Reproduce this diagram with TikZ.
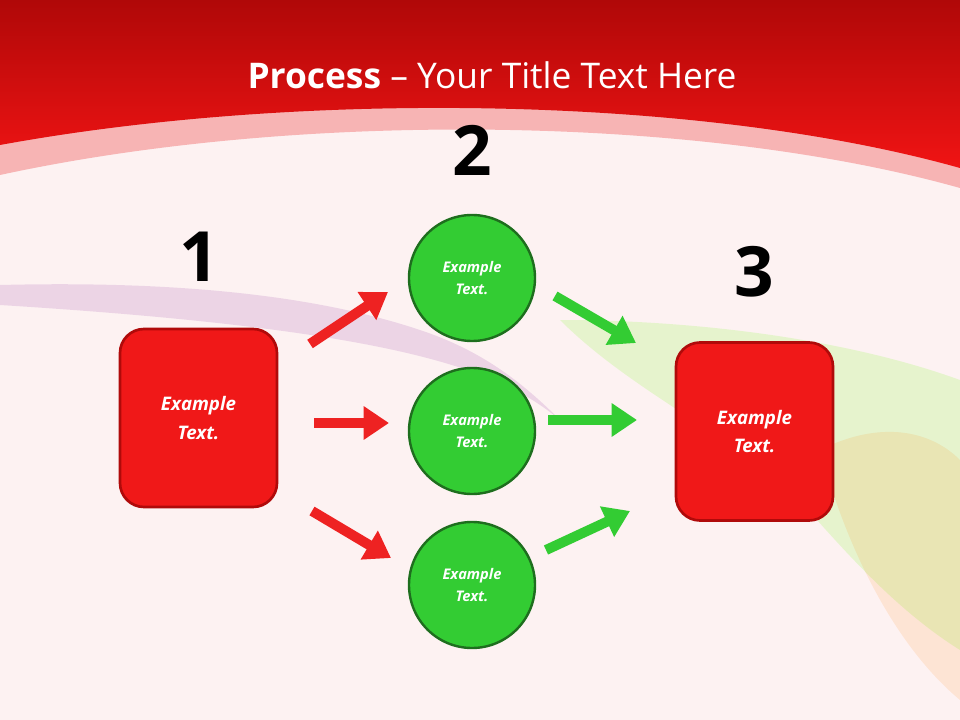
\documentclass[tikz,border=0pt]{standalone}
\usepackage{fontspec}
\setmainfont{Open Sans}
\usetikzlibrary{arrows.meta}
\definecolor{bgpink}{HTML}{FDF2F2}
\definecolor{hdrdark}{HTML}{B00808}
\definecolor{hdrred}{HTML}{F01414}
\definecolor{band}{HTML}{F7B4B4}
\definecolor{boxred}{HTML}{F01818}
\definecolor{boxedge}{HTML}{B00A0A}
\definecolor{cgreen}{HTML}{33CC33}
\definecolor{cedge}{HTML}{1E6E1E}
\definecolor{ared}{HTML}{EE2222}
\definecolor{agreen}{HTML}{33CC33}
\tikzset{
 box/.style={draw=boxedge,line width=2pt,fill=boxred,rounded corners=18pt,minimum width=157*0.75pt,minimum height=178*0.75pt,text=white,font=\bfseries\itshape\fontsize{14}{21.5}\selectfont,align=center},
 circ/.style={circle,draw=cedge,line width=1.8pt,fill=cgreen,minimum size=126*0.75pt,text=white,font=\bfseries\itshape\fontsize{11}{17}\selectfont,align=center},
 num/.style={font=\bfseries\fontsize{52}{56}\selectfont,text=black},
 blk/.style={line width=7.5pt,-{Triangle[length=19pt,width=24pt]}},
}
\begin{document}
\begin{tikzpicture}[x=0.75pt,y=-0.75pt]
\useasboundingbox (0,0) rectangle (960,720);
\fill[bgpink] (0,0) rectangle (960,720);
% faint smoke
\fill[blue!40!purple,opacity=0.12] (0,285) .. controls (200,280) and (330,300) .. (420,330) .. controls (480,350) and (520,380) .. (560,420) .. controls (500,370) and (400,330) .. (0,305) -- cycle;
\fill[green!60!yellow,opacity=0.15] (560,320) .. controls (700,320) and (850,340) .. (960,380) -- (960,650) .. controls (880,600) and (820,520) .. (780,480) .. controls (700,420) and (620,380) .. (560,320) -- cycle;
\fill[orange,opacity=0.12] (820,450) .. controls (880,420) and (930,430) .. (960,460) -- (960,700) .. controls (900,650) and (850,560) .. (820,450) -- cycle;
% header
\fill[band] (0,175) .. controls (300,110) and (700,115) .. (960,188) -- (960,0) -- (0,0) -- cycle;
\shade[top color=hdrdark,bottom color=hdrred] (0,0) -- (960,0) -- (960,168) .. controls (700,95) and (300,90) .. (0,145) -- cycle;
\node[text=white,font=\fontsize{26.5}{30}\selectfont] (title) at (492,75) {\textbf{Process} -- Your Title Text Here};
% numbers
\node[num] (n1) at (199,257) {1};
\node[num] (n2) at (472,150) {2};
\node[num] (n3) at (754,272) {3};
% boxes
\node[box] (b1) at (198.5,418) {Example\\Text.};
\node[box] (b3) at (754.5,431.5) {Example\\Text.};
\node[circ] (c1) at (472,278) {Example\\Text.};
\node[circ] (c2) at (472,431) {Example\\Text.};
\node[circ] (c3) at (472,585) {Example\\Text.};
% arrows
\coordinate (r1s) at (310,344); \coordinate (r1e) at (388,292);
\coordinate (r2s) at (314,423); \coordinate (r2e) at (389,423);
\coordinate (r3s) at (312,511); \coordinate (r3e) at (391,558);
\coordinate (g1s) at (555,296); \coordinate (g1e) at (636,343);
\coordinate (g2s) at (548,420); \coordinate (g2e) at (637,420);
\coordinate (g3s) at (546,550); \coordinate (g3e) at (630,511);
\draw[blk,ared] (r1s) -- (r1e);
\draw[blk,ared] (r2s) -- (r2e);
\draw[blk,ared] (r3s) -- (r3e);
\draw[blk,agreen] (g1s) -- (g1e);
\draw[blk,agreen] (g2s) -- (g2e);
\draw[blk,agreen] (g3s) -- (g3e);
\end{tikzpicture}
\end{document}
